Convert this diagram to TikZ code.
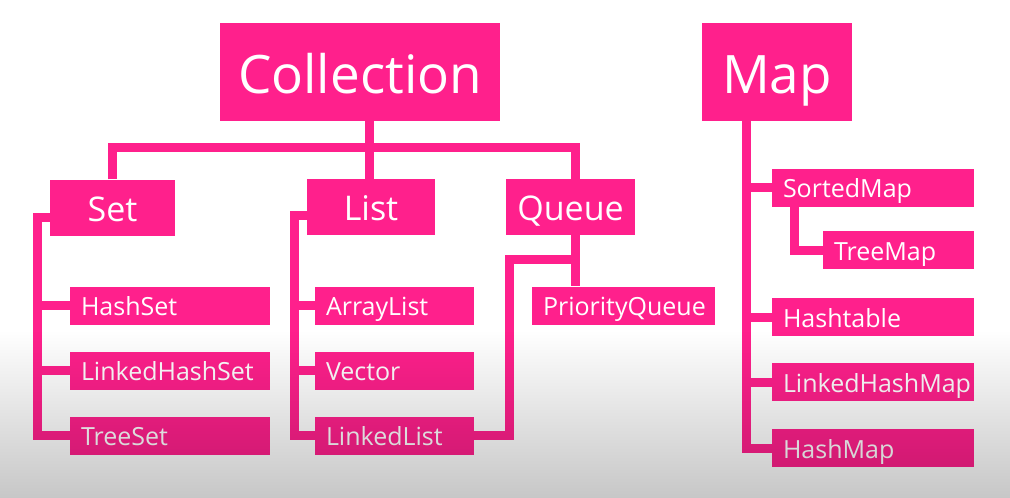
\documentclass[tikz,border=0pt]{standalone}
\usepackage{fontspec}
\setmainfont{Open Sans}
\usepackage{tikz,xcolor}
\definecolor{boxpink}{RGB}{255,32,140}

\begin{document}
\begin{tikzpicture}[x=1pt,y=-1pt]
\useasboundingbox (0,0) rectangle (1010,498);
\fill[white] (0,0) rectangle (1010,498);

\tikzstyle{BoxStyle}=[fill=boxpink, text=white, inner sep=0pt, text depth=0pt]
\tikzstyle{RootStyle}=[BoxStyle, font=\fontsize{53}{60}\selectfont, text height=42pt, minimum height=98]
\tikzstyle{HeadStyle}=[BoxStyle, font=\fontsize{34}{40}\selectfont, text height=27pt, minimum height=56]
\tikzstyle{LeafStyle}=[BoxStyle, font=\fontsize{25}{30}\selectfont, text height=20pt, minimum height=38, inner xsep=11pt, align=left]
\tikzstyle{WireStyle}=[draw=boxpink, line width=9pt]

\node[RootStyle, minimum width=280] (coll) at (360,72) {Collection};
\node[RootStyle, minimum width=150] (map) at (777,72) {Map};

\node[HeadStyle, minimum width=125] (set) at (112.5,207.5) {Set};
\node[HeadStyle, minimum width=128] (list) at (371,207) {List};
\node[HeadStyle, minimum width=129] (queue) at (570.5,207) {Queue};

\node[LeafStyle, text width=178] (hashset) at (170,305.5) {HashSet};
\node[LeafStyle, text width=178] (linkedhashset) at (170,370.5) {LinkedHashSet};
\node[LeafStyle, text width=178] (treeset) at (170,435.5) {TreeSet};

\node[LeafStyle, text width=137] (arraylist) at (394.5,305.5) {ArrayList};
\node[LeafStyle, text width=137] (vector) at (394.5,370.5) {Vector};
\node[LeafStyle, text width=137] (linkedlist) at (394.5,435.5) {LinkedList};

\node[LeafStyle, text width=161] (prioqueue) at (623.5,305.5) {PriorityQueue};

\node[LeafStyle, text width=180] (sortedmap) at (873,187.5) {SortedMap};
\node[LeafStyle, text width=129] (treemap) at (898.5,250) {TreeMap};
\node[LeafStyle, text width=180] (hashtable) at (873,317) {Hashtable};
\node[LeafStyle, text width=180] (linkedhashmap) at (873,382) {LinkedHashMap};
\node[LeafStyle, text width=180] (hashmap) at (873,448) {HashMap};

\coordinate (top) at (369,147);
\coordinate (qdown) at ([xshift=5]queue.south);
\coordinate (setbus) at (37,217);
\coordinate (listbus) at (294,215);
\coordinate (qbus) at (509,259);
\coordinate (mapbus) at ([xshift=-31]map.south);
\coordinate (smbus) at ([xshift=-79]sortedmap.south);

\draw[WireStyle] (coll.south -| top) -- (list.north -| top);
\draw[WireStyle] (set.north) |- (top) -| (qdown |- queue.north);

\draw[WireStyle] (set.west |- setbus) -- (setbus) |- (treeset.west);
\draw[WireStyle] (hashset.west) -- (hashset.west -| setbus);
\draw[WireStyle] (linkedhashset.west) -- (linkedhashset.west -| setbus);

\draw[WireStyle] (list.west |- listbus) -- (listbus) |- (linkedlist.west);
\draw[WireStyle] (arraylist.west) -- (arraylist.west -| listbus);
\draw[WireStyle] (vector.west) -- (vector.west -| listbus);

\draw[WireStyle] (qdown) -- (qdown |- prioqueue.north);
\draw[WireStyle] (linkedlist.east) -| (qbus) -- (qbus -| qdown);

\draw[WireStyle] (mapbus) |- (hashmap.west);
\draw[WireStyle] (sortedmap.west) -- (sortedmap.west -| mapbus);
\draw[WireStyle] (hashtable.west) -- (hashtable.west -| mapbus);
\draw[WireStyle] (linkedhashmap.west) -- (linkedhashmap.west -| mapbus);
\draw[WireStyle] (smbus) |- (treemap.west);

\begin{scope}[blend mode=multiply]
\shade[top color=white, bottom color=black!22] (0,330) rectangle (1010,498);
\end{scope}

\end{tikzpicture}
\end{document}
